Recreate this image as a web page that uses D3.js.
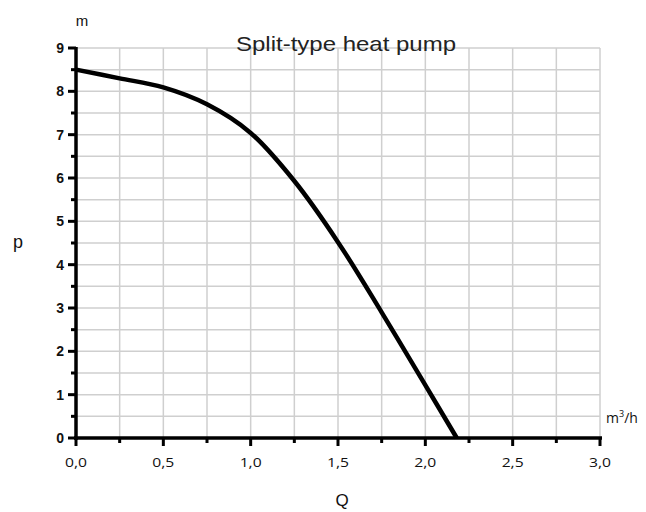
<!DOCTYPE html>
<html><head><meta charset="utf-8">
<script src="https://cdn.jsdelivr.net/npm/d3@7"></script>
<style>body{margin:0;background:#fff}svg{display:block}</style>
</head><body><svg id="c" width="646" height="512"></svg>
<script>
const flowQ = [0, 0.25, 0.5, 0.75, 1.0, 1.25, 1.5, 1.75, 2.0, 2.18];
const headP = [8.5, 8.3, 8.09, 7.7, 7.04, 5.93, 4.52, 2.9, 1.22, 0];
const xTickLabels = ["0,0","0,5","1,0","1,5","2,0","2,5","3,0"];
const yTickLabels = ["0","1","2","3","4","5","6","7","8","9"];
const title = "Split-type heat pump";

const svg = d3.select("#c");
const x = d3.scaleLinear().domain([0,3]).range([76,600]);
const y = d3.scaleLinear().domain([0,9]).range([438,48]);

// grid
const g = svg.append("g");
g.selectAll(".vg").data(d3.range(1,13).map(i=>i*0.25)).enter().append("line")
 .attr("x1",d=>x(d)).attr("x2",d=>x(d)).attr("y1",y(9)).attr("y2",y(0))
 .attr("stroke","#cfcfcf").attr("stroke-width",1.5);
g.selectAll(".hg").data(d3.range(1,19).map(i=>i*0.5)).enter().append("line")
 .attr("x1",x(0)).attr("x2",x(3)).attr("y1",d=>y(d)).attr("y2",d=>y(d))
 .attr("stroke","#cfcfcf").attr("stroke-width",1.5);

// curve
const line = d3.line().x(d=>x(d[0])).y(d=>y(d[1])).curve(d3.curveCatmullRom.alpha(0.5));
svg.append("path").datum(flowQ.map((q,i)=>[q,headP[i]]))
 .attr("d",line).attr("fill","none").attr("stroke","#000").attr("stroke-width",4.5)
 .attr("stroke-linejoin","round");

// axes lines
svg.append("line").attr("x1",x(0)).attr("x2",x(0)).attr("y1",y(9)-1).attr("y2",y(0)+2)
 .attr("stroke","#000").attr("stroke-width",3.5);
svg.append("line").attr("x1",x(0)-2).attr("x2",x(3)+2).attr("y1",y(0)).attr("y2",y(0))
 .attr("stroke","#000").attr("stroke-width",3.5);

// y ticks
svg.selectAll(".yt").data(d3.range(0,19).map(i=>i*0.5)).enter().append("line")
 .attr("x1",d=> Number.isInteger(d)? x(0)-8 : x(0)-5).attr("x2",x(0))
 .attr("y1",d=>y(d)).attr("y2",d=>y(d)).attr("stroke","#000").attr("stroke-width",3);
svg.selectAll(".yl").data(yTickLabels).enter().append("text")
 .attr("x",x(0)-12).attr("y",(d,i)=>y(i)+5).attr("text-anchor","end")
 .attr("font-family","Liberation Sans, Arial, sans-serif").attr("font-weight","bold")
 .attr("font-size",14).attr("fill","#111").text(d=>d);

// x ticks
svg.selectAll(".xt").data(d3.range(0,13).map(i=>i*0.25)).enter().append("line")
 .attr("x1",d=>x(d)).attr("x2",d=>x(d)).attr("y1",y(0))
 .attr("y2",d=> (Math.round(d*4)%2===0)? y(0)+8 : y(0)+5)
 .attr("stroke","#000").attr("stroke-width",3);
svg.selectAll(".xl").data(xTickLabels).enter().append("text")
 .attr("x",(d,i)=>x(i*0.5)).attr("y",y(0)+29).attr("text-anchor","middle")
 .attr("font-family","Open Sans, sans-serif").attr("font-size",13).attr("fill","#111")
 .attr("textLength",22).attr("lengthAdjust","spacingAndGlyphs").text(d=>d);

// labels
svg.append("text").attr("x",346).attr("y",51).attr("text-anchor","middle")
 .attr("font-family","Liberation Sans, Arial, sans-serif").attr("font-size",21).attr("fill","#222")
 .attr("textLength",220).attr("lengthAdjust","spacingAndGlyphs").text(title);
svg.append("text").attr("x",82).attr("y",26).attr("text-anchor","middle")
 .attr("font-family","Liberation Sans, Arial, sans-serif").attr("font-size",15).attr("fill","#111").text("m");
svg.append("text").attr("x",18).attr("y",248).attr("text-anchor","middle")
 .attr("font-family","Liberation Sans, Arial, sans-serif").attr("font-size",18).attr("fill","#111").text("p");
svg.append("text").attr("x",342).attr("y",506).attr("text-anchor","middle")
 .attr("font-family","Liberation Sans, Arial, sans-serif").attr("font-size",17).attr("fill","#111").text("Q");
const u = svg.append("text").attr("x",606).attr("y",423)
 .attr("font-family","Open Sans, sans-serif").attr("font-size",14).attr("fill","#111");
u.append("tspan").text("m");
u.append("tspan").attr("dy",-6).attr("font-size",9).text("3");
u.append("tspan").attr("dy",6).text("/h");
</script></body></html>
